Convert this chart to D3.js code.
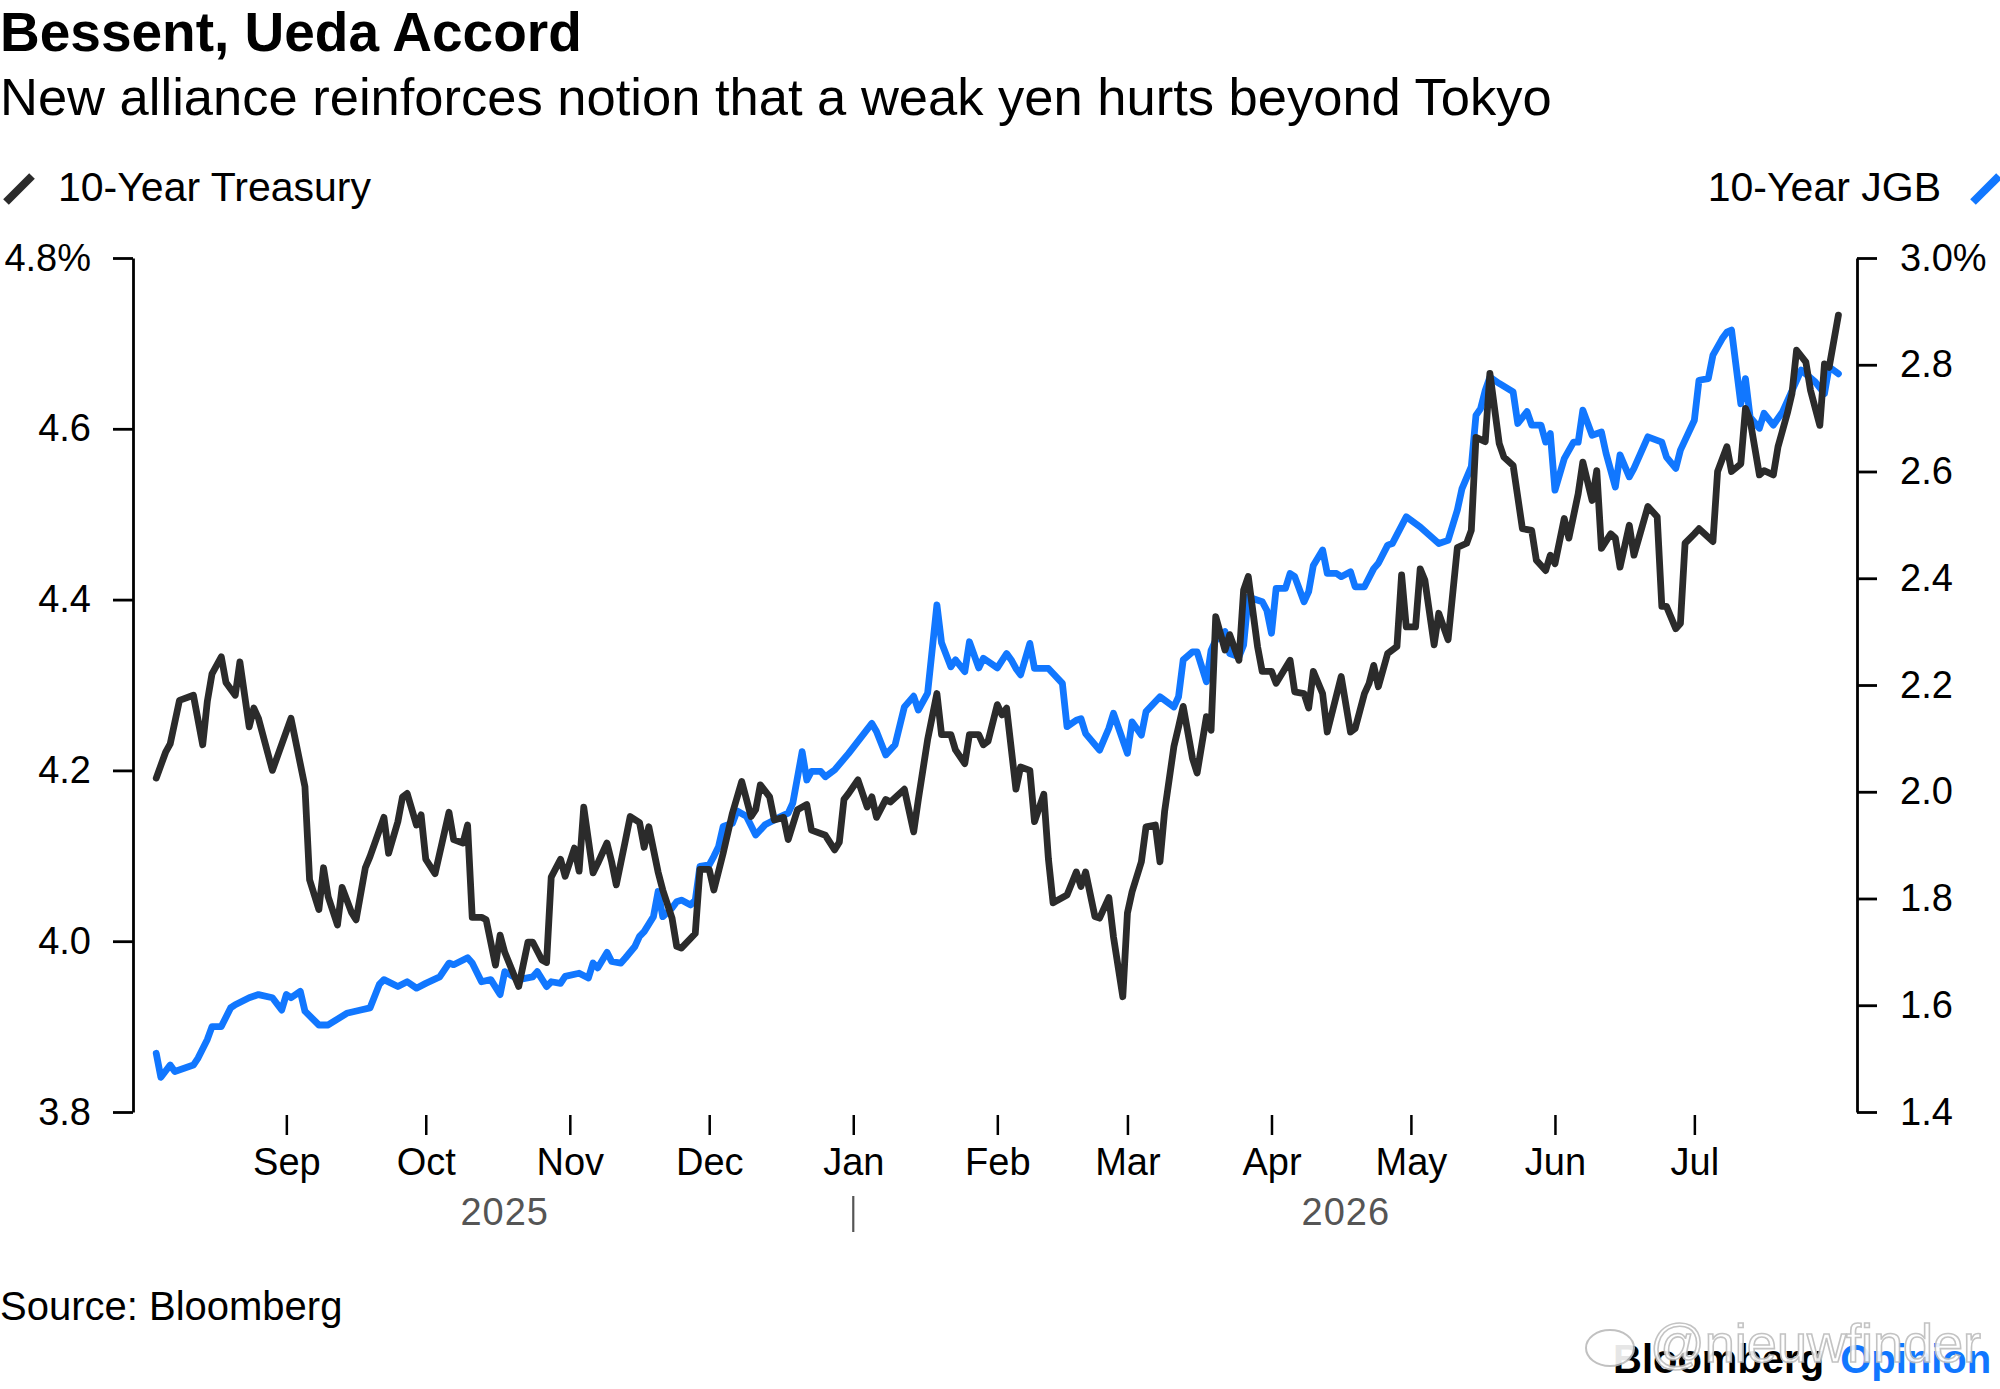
<!DOCTYPE html>
<html><head><meta charset="utf-8">
<script src="https://cdn.jsdelivr.net/npm/d3@7"></script>
<style>
body{margin:0;background:#fff;}
svg text{font-family:"Liberation Sans",Arial,Helvetica,sans-serif;}
</style>
</head><body>
<svg id="chart" width="2000" height="1389"></svg>
<script>
// ---------------- DATA ----------------
const titleText = "Bessent, Ueda Accord";
const subtitleText = "New alliance reinforces notion that a weak yen hurts beyond Tokyo";
const seriesNames = ["10-Year Treasury", "10-Year JGB"];
const sourceText = "Source: Bloomberg";

// 10-Year Treasury yield (%), left axis
const treasury = [
["2025-08-04",4.191],["2025-08-06",4.221],["2025-08-07",4.231],["2025-08-09",4.282],["2025-08-12",4.288],
["2025-08-14",4.230],["2025-08-15",4.281],["2025-08-16",4.313],["2025-08-18",4.333],["2025-08-19",4.303],
["2025-08-21",4.288],["2025-08-22",4.327],["2025-08-24",4.251],["2025-08-25",4.273],["2025-08-26",4.261],
["2025-08-29",4.200],["2025-09-02",4.261],["2025-09-05",4.181],["2025-09-06",4.072],["2025-09-08",4.037],
["2025-09-09",4.086],["2025-09-10",4.052],["2025-09-12",4.019],["2025-09-13",4.063],["2025-09-15",4.034],
["2025-09-16",4.025],["2025-09-18",4.086],["2025-09-19",4.099],["2025-09-22",4.145],["2025-09-23",4.103],
["2025-09-25",4.140],["2025-09-26",4.169],["2025-09-27",4.173],["2025-09-29",4.136],["2025-09-30",4.148],
["2025-10-01",4.096],["2025-10-03",4.079],["2025-10-06",4.151],["2025-10-07",4.119],["2025-10-09",4.115],
["2025-10-10",4.136],["2025-10-11",4.028],["2025-10-13",4.028],["2025-10-14",4.025],["2025-10-16",3.972],
["2025-10-17",4.007],["2025-10-18",3.987],["2025-10-21",3.947],["2025-10-23",3.999],["2025-10-24",3.999],
["2025-10-26",3.978],["2025-10-27",3.975],["2025-10-28",4.075],["2025-10-30",4.096],["2025-10-31",4.076],
["2025-11-02",4.109],["2025-11-03",4.082],["2025-11-04",4.157],["2025-11-06",4.080],["2025-11-07",4.091],
["2025-11-09",4.115],["2025-11-10",4.093],["2025-11-11",4.066],["2025-11-13",4.119],["2025-11-14",4.146],
["2025-11-16",4.139],["2025-11-17",4.110],["2025-11-18",4.134],["2025-11-20",4.081],["2025-11-21",4.060],
["2025-11-23",4.027],["2025-11-24",3.994],["2025-11-25",3.992],["2025-11-28",4.009],["2025-11-29",4.084],
["2025-12-01",4.084],["2025-12-02",4.060],["2025-12-04",4.103],["2025-12-06",4.150],["2025-12-08",4.187],
["2025-12-10",4.146],["2025-12-11",4.154],["2025-12-12",4.183],["2025-12-14",4.169],["2025-12-15",4.142],
["2025-12-17",4.145],["2025-12-18",4.119],["2025-12-20",4.154],["2025-12-22",4.160],["2025-12-23",4.130],
["2025-12-26",4.124],["2025-12-28",4.107],["2025-12-29",4.116],["2025-12-30",4.166],["2025-12-31",4.173],
["2026-01-02",4.189],["2026-01-04",4.157],["2026-01-05",4.169],["2026-01-06",4.145],["2026-01-08",4.166],
["2026-01-09",4.163],["2026-01-12",4.178],["2026-01-14",4.128],["2026-01-15",4.166],["2026-01-17",4.236],
["2026-01-19",4.290],["2026-01-20",4.242],["2026-01-22",4.242],["2026-01-23",4.224],["2026-01-25",4.208],
["2026-01-26",4.242],["2026-01-28",4.242],["2026-01-29",4.230],["2026-01-30",4.234],["2026-02-01",4.277],
["2026-02-02",4.265],["2026-02-03",4.273],["2026-02-05",4.178],["2026-02-06",4.204],["2026-02-08",4.200],
["2026-02-09",4.140],["2026-02-11",4.172],["2026-02-12",4.096],["2026-02-13",4.045],["2026-02-16",4.054],
["2026-02-18",4.081],["2026-02-19",4.064],["2026-02-20",4.081],["2026-02-22",4.029],["2026-02-23",4.027],
["2026-02-25",4.051],["2026-02-26",4.005],["2026-02-28",3.935],["2026-03-01",4.033],["2026-03-02",4.058],
["2026-03-04",4.093],["2026-03-05",4.134],["2026-03-07",4.136],["2026-03-08",4.093],["2026-03-09",4.152],
["2026-03-11",4.228],["2026-03-12",4.251],["2026-03-13",4.275],["2026-03-15",4.214],["2026-03-16",4.197],
["2026-03-18",4.263],["2026-03-19",4.247],["2026-03-20",4.380],["2026-03-22",4.341],["2026-03-23",4.359],
["2026-03-25",4.329],["2026-03-26",4.411],["2026-03-27",4.427],["2026-03-29",4.345],["2026-03-30",4.316],
["2026-04-01",4.316],["2026-04-02",4.302],["2026-04-05",4.329],["2026-04-06",4.292],["2026-04-08",4.290],
["2026-04-09",4.273],["2026-04-10",4.316],["2026-04-12",4.290],["2026-04-13",4.245],["2026-04-16",4.310],
["2026-04-18",4.245],["2026-04-19",4.249],["2026-04-21",4.290],["2026-04-22",4.302],["2026-04-23",4.323],
["2026-04-24",4.298],["2026-04-26",4.337],["2026-04-28",4.345],["2026-04-29",4.429],["2026-04-30",4.368],
["2026-05-02",4.368],["2026-05-03",4.436],["2026-05-04",4.423],["2026-05-06",4.347],["2026-05-07",4.384],
["2026-05-09",4.353],["2026-05-11",4.461],["2026-05-13",4.466],["2026-05-14",4.481],["2026-05-15",4.590],
["2026-05-17",4.585],["2026-05-18",4.665],["2026-05-20",4.583],["2026-05-21",4.567],["2026-05-23",4.557],
["2026-05-25",4.483],["2026-05-27",4.481],["2026-05-28",4.446],["2026-05-30",4.434],["2026-05-31",4.452],
["2026-06-01",4.442],["2026-06-03",4.495],["2026-06-04",4.472],["2026-06-06",4.524],["2026-06-07",4.561],
["2026-06-09",4.516],["2026-06-10",4.551],["2026-06-11",4.460],["2026-06-13",4.477],["2026-06-14",4.472],
["2026-06-15",4.438],["2026-06-17",4.487],["2026-06-18",4.452],["2026-06-21",4.509],["2026-06-23",4.497],
["2026-06-24",4.392],["2026-06-25",4.392],["2026-06-27",4.366],["2026-06-28",4.372],["2026-06-29",4.466],
["2026-07-01",4.477],["2026-07-02",4.483],["2026-07-05",4.468],["2026-07-06",4.550],["2026-07-08",4.579],
["2026-07-09",4.550],["2026-07-11",4.559],["2026-07-12",4.624],["2026-07-13",4.610],["2026-07-15",4.546],
["2026-07-16",4.551],["2026-07-18",4.546],["2026-07-19",4.579],["2026-07-21",4.618],["2026-07-22",4.641],
["2026-07-23",4.692],["2026-07-25",4.678],["2026-07-26",4.645],["2026-07-28",4.604],["2026-07-29",4.676],
["2026-07-30",4.672],["2026-08-01",4.733]
];

// 10-Year JGB yield (%), right axis
const jgb = [
["2025-08-04",1.510],["2025-08-05",1.465],["2025-08-07",1.488],["2025-08-08",1.476],["2025-08-12",1.488],
["2025-08-13",1.501],["2025-08-15",1.536],["2025-08-16",1.560],["2025-08-18",1.560],["2025-08-20",1.595],
["2025-08-21",1.601],["2025-08-24",1.614],["2025-08-26",1.620],["2025-08-29",1.614],["2025-08-31",1.591],
["2025-09-01",1.620],["2025-09-02",1.614],["2025-09-04",1.626],["2025-09-05",1.589],["2025-09-08",1.563],
["2025-09-10",1.563],["2025-09-14",1.585],["2025-09-17",1.591],["2025-09-19",1.595],["2025-09-21",1.639],
["2025-09-22",1.648],["2025-09-25",1.635],["2025-09-27",1.644],["2025-09-29",1.632],["2025-10-01",1.641],
["2025-10-04",1.653],["2025-10-06",1.679],["2025-10-07",1.676],["2025-10-10",1.689],["2025-10-11",1.679],
["2025-10-13",1.644],["2025-10-15",1.648],["2025-10-17",1.620],["2025-10-18",1.663],["2025-10-21",1.648],
["2025-10-24",1.653],["2025-10-25",1.663],["2025-10-27",1.635],["2025-10-28",1.644],["2025-10-30",1.641],
["2025-10-31",1.654],["2025-11-03",1.660],["2025-11-05",1.651],["2025-11-06",1.679],["2025-11-07",1.670],
["2025-11-09",1.699],["2025-11-10",1.682],["2025-11-12",1.679],["2025-11-13",1.689],["2025-11-15",1.710],
["2025-11-16",1.729],["2025-11-17",1.738],["2025-11-19",1.766],["2025-11-20",1.813],["2025-11-21",1.766],
["2025-11-23",1.782],["2025-11-24",1.794],["2025-11-25",1.797],["2025-11-27",1.788],["2025-11-28",1.797],
["2025-11-29",1.860],["2025-12-01",1.863],["2025-12-02",1.879],["2025-12-03",1.897],["2025-12-04",1.935],
["2025-12-06",1.941],["2025-12-07",1.964],["2025-12-09",1.954],["2025-12-11",1.919],["2025-12-13",1.938],
["2025-12-15",1.947],["2025-12-16",1.952],["2025-12-18",1.960],["2025-12-19",1.979],["2025-12-21",2.075],
["2025-12-22",2.022],["2025-12-23",2.038],["2025-12-25",2.038],["2025-12-26",2.028],["2025-12-28",2.041],
["2025-12-31",2.072],["2026-01-05",2.128],["2026-01-06",2.113],["2026-01-08",2.069],["2026-01-10",2.088],
["2026-01-12",2.159],["2026-01-14",2.179],["2026-01-15",2.153],["2026-01-17",2.185],["2026-01-19",2.350],
["2026-01-20",2.279],["2026-01-22",2.234],["2026-01-23",2.247],["2026-01-25",2.225],["2026-01-26",2.281],
["2026-01-28",2.232],["2026-01-29",2.250],["2026-02-01",2.232],["2026-02-03",2.259],["2026-02-04",2.247],
["2026-02-05",2.231],["2026-02-06",2.219],["2026-02-08",2.278],["2026-02-09",2.231],["2026-02-12",2.231],
["2026-02-15",2.203],["2026-02-16",2.122],["2026-02-18",2.134],["2026-02-19",2.137],["2026-02-20",2.109],
["2026-02-23",2.078],["2026-02-25",2.119],["2026-02-26",2.147],["2026-03-01",2.072],["2026-03-02",2.131],
["2026-03-04",2.106],["2026-03-05",2.150],["2026-03-08",2.178],["2026-03-11",2.159],["2026-03-12",2.178],
["2026-03-13",2.247],["2026-03-15",2.262],["2026-03-16",2.262],["2026-03-18",2.206],["2026-03-19",2.265],
["2026-03-20",2.284],["2026-03-22",2.300],["2026-03-23",2.259],["2026-03-25",2.253],["2026-03-26",2.275],
["2026-03-27",2.365],["2026-03-30",2.356],["2026-03-31",2.340],["2026-04-01",2.297],["2026-04-02",2.381],
["2026-04-04",2.381],["2026-04-05",2.409],["2026-04-06",2.403],["2026-04-08",2.356],["2026-04-09",2.375],
["2026-04-10",2.424],["2026-04-12",2.453],["2026-04-13",2.409],["2026-04-15",2.409],["2026-04-16",2.403],
["2026-04-18",2.412],["2026-04-19",2.384],["2026-04-21",2.384],["2026-04-23",2.418],["2026-04-24",2.428],
["2026-04-26",2.462],["2026-04-27",2.465],["2026-04-30",2.515],["2026-05-03",2.496],["2026-05-07",2.465],
["2026-05-09",2.471],["2026-05-11",2.528],["2026-05-12",2.568],["2026-05-14",2.609],["2026-05-15",2.705],
["2026-05-16",2.718],["2026-05-17",2.752],["2026-05-18",2.777],["2026-05-20",2.765],["2026-05-23",2.749],
["2026-05-24",2.690],["2026-05-26",2.712],["2026-05-27",2.687],["2026-05-29",2.687],["2026-05-30",2.655],
["2026-05-31",2.671],["2026-06-01",2.565],["2026-06-03",2.624],["2026-06-05",2.655],["2026-06-06",2.655],
["2026-06-07",2.715],["2026-06-09",2.668],["2026-06-11",2.674],["2026-06-12",2.634],["2026-06-14",2.571],
["2026-06-15",2.631],["2026-06-17",2.590],["2026-06-18",2.606],["2026-06-21",2.665],["2026-06-24",2.655],
["2026-06-25",2.627],["2026-06-27",2.606],["2026-06-28",2.640],["2026-07-01",2.696],["2026-07-02",2.771],
["2026-07-04",2.774],["2026-07-05",2.818],["2026-07-07",2.849],["2026-07-08",2.861],["2026-07-09",2.865],
["2026-07-11",2.727],["2026-07-12",2.774],["2026-07-13",2.702],["2026-07-15",2.681],["2026-07-16",2.709],
["2026-07-18",2.687],["2026-07-20",2.712],["2026-07-24",2.790],["2026-07-27",2.768],["2026-07-29",2.746],
["2026-07-30",2.796],["2026-08-01",2.783]
];

const leftTicks = [3.8, 4.0, 4.2, 4.4, 4.6, 4.8];
const rightTicks = [1.4, 1.6, 1.8, 2.0, 2.2, 2.4, 2.6, 2.8, 3.0];
const monthTicks = ["2025-09-01","2025-10-01","2025-11-01","2025-12-01","2026-01-01","2026-02-01",
                    "2026-03-01","2026-04-01","2026-05-01","2026-06-01","2026-07-01"];
const yearLabels = ["2025", "2026"];
const yearBoundary = "2026-01-01";
const xDomain = ["2025-07-30", "2026-08-05"];

// ---------------- DRAW ----------------
const W = 2000, H = 1389;
const plot = {left: 133, right: 1857, top: 258, bottom: 1112};
const colTreasury = "#2b2b2b", colJGB = "#1177ff";
const parse = d3.timeParse("%Y-%m-%d");

const svg = d3.select("#chart");
svg.append("rect").attr("width", W).attr("height", H).attr("fill", "#fff");

const x = d3.scaleTime().domain(xDomain.map(parse)).range([plot.left, plot.right]);
const yL = d3.scaleLinear().domain([3.8, 4.8]).range([plot.bottom, plot.top]);
const yR = d3.scaleLinear().domain([1.4, 3.0]).range([plot.bottom, plot.top]);

// Title & subtitle
svg.append("text").attr("x", 0).attr("y", 51).attr("font-size", 55).attr("font-weight", "bold")
  .attr("fill", "#000").text(titleText);
svg.append("text").attr("x", 0).attr("y", 115).attr("font-size", 52.5)
  .attr("fill", "#000").text(subtitleText);

// Legend
svg.append("line").attr("x1", 6).attr("y1", 202).attr("x2", 32).attr("y2", 176)
  .attr("stroke", colTreasury).attr("stroke-width", 8);
svg.append("text").attr("x", 58).attr("y", 201).attr("font-size", 41).attr("fill", "#000").text(seriesNames[0]);
svg.append("text").attr("x", 1941).attr("y", 201).attr("font-size", 41).attr("text-anchor", "end")
  .attr("fill", "#000").text(seriesNames[1]);
svg.append("line").attr("x1", 1973).attr("y1", 202).attr("x2", 1999).attr("y2", 176)
  .attr("stroke", colJGB).attr("stroke-width", 8);

// Left axis
const fmtL = d => (d === 4.8 ? d3.format(".1f")(d) + "%" : d3.format(".1f")(d));
const gL = svg.append("g").attr("transform", `translate(${plot.left},0)`)
  .call(d3.axisLeft(yL).tickValues(leftTicks).tickFormat(fmtL).tickSize(20).tickSizeOuter(0).tickPadding(22));
// Right axis
const fmtR = d => (d === 3.0 ? d3.format(".1f")(d) + "%" : d3.format(".1f")(d));
const gR = svg.append("g").attr("transform", `translate(${plot.right},0)`)
  .call(d3.axisRight(yR).tickValues(rightTicks).tickFormat(fmtR).tickSize(20).tickSizeOuter(0).tickPadding(23));
[gL, gR].forEach(g => {
  g.select(".domain").attr("stroke", "#000").attr("stroke-width", 2.8);
  g.selectAll(".tick line").attr("stroke", "#000").attr("stroke-width", 2.8);
  g.selectAll(".tick text").attr("font-size", 38).attr("fill", "#000")
    .attr("font-family", "'Liberation Sans', Arial, sans-serif");
});

// X axis (ticks only)
const gX = svg.append("g").attr("transform", `translate(0,1115)`)
  .call(d3.axisBottom(x).tickValues(monthTicks.map(parse)).tickFormat(d3.timeFormat("%b"))
    .tickSize(20).tickSizeOuter(0).tickPadding(13));
gX.select(".domain").remove();
gX.selectAll(".tick line").attr("stroke", "#000").attr("stroke-width", 2.5);
gX.selectAll(".tick text").attr("font-size", 38).attr("fill", "#000")
  .attr("font-family", "'Liberation Sans', Arial, sans-serif");

// Year labels
const firstDate = parse(treasury[0][0]), lastDate = parse(treasury[treasury.length - 1][0]);
const yb = parse(yearBoundary);
const yearPos = [(x(firstDate) + x(yb)) / 2, (x(yb) + x(lastDate)) / 2];
yearLabels.forEach((t, i) => {
  svg.append("text").attr("x", yearPos[i]).attr("y", 1225).attr("font-size", 38)
    .attr("text-anchor", "middle").attr("fill", "#555").attr("letter-spacing", 1).text(t);
});
svg.append("line").attr("x1", x(yb)).attr("x2", x(yb)).attr("y1", 1196).attr("y2", 1232)
  .attr("stroke", "#555").attr("stroke-width", 2.2);

// Lines
const lineL = d3.line().x(d => x(parse(d[0]))).y(d => yL(d[1]));
const lineR = d3.line().x(d => x(parse(d[0]))).y(d => yR(d[1]));
svg.append("path").datum(jgb).attr("d", lineR).attr("fill", "none").attr("stroke", colJGB)
  .attr("stroke-width", 6.8).attr("stroke-linejoin", "round").attr("stroke-linecap", "round");
svg.append("path").datum(treasury).attr("d", lineL).attr("fill", "none").attr("stroke", colTreasury)
  .attr("stroke-width", 6.8).attr("stroke-linejoin", "round").attr("stroke-linecap", "round");

// Source
svg.append("text").attr("x", 0).attr("y", 1320).attr("font-size", 40).attr("fill", "#000").text(sourceText);

// Bloomberg Opinion logo
const logo = svg.append("text").attr("x", 1613).attr("y", 1373).attr("font-size", 40).attr("font-weight", "bold");
logo.append("tspan").attr("fill", "#000").text("Bloomberg");
logo.append("tspan").attr("fill", colJGB).attr("dx", 16).text("Opinion");

// Repost watermark
const wm = svg.append("g").attr("opacity", 0.9);
wm.append("ellipse").attr("cx", 1610).attr("cy", 1348).attr("rx", 24).attr("ry", 18)
  .attr("fill", "#fff").attr("stroke", "#bbb").attr("stroke-width", 2);
wm.append("text").attr("x", 1650).attr("y", 1362).attr("font-size", 54).attr("fill", "#fff")
  .attr("stroke", "#bdbdbd").attr("stroke-width", 1.6).text("@nieuwfinder");
</script>
</body></html>
